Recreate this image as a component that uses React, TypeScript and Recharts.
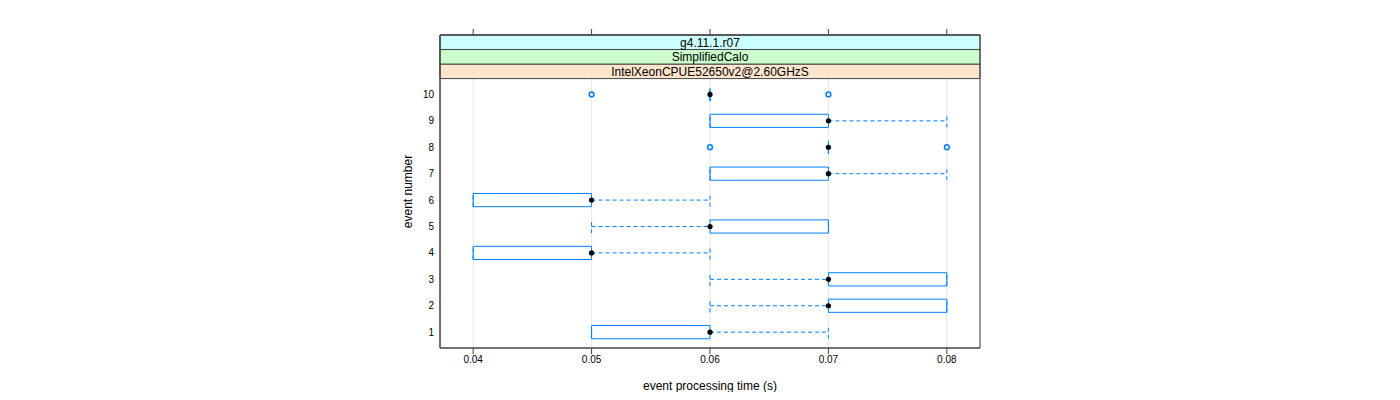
import { ComposedChart, XAxis, YAxis, CartesianGrid, Scatter, ReferenceArea, ReferenceLine } from 'recharts';

// per-event box statistics (event processing time, s)
const events = [1, 2, 3, 4, 5, 6, 7, 8, 9, 10];
const whiskerLow = [0.05, 0.06, 0.06, 0.04, 0.05, 0.04, 0.06, 0.07, 0.06, 0.06];
const lowerHinge = [0.05, 0.07, 0.07, 0.04, 0.06, 0.04, 0.06, 0.07, 0.06, 0.06];
const medians = [0.06, 0.07, 0.07, 0.05, 0.06, 0.05, 0.07, 0.07, 0.07, 0.06];
const upperHinge = [0.06, 0.08, 0.08, 0.05, 0.07, 0.05, 0.07, 0.07, 0.07, 0.06];
const whiskerHigh = [0.07, 0.08, 0.08, 0.06, 0.07, 0.06, 0.08, 0.07, 0.08, 0.06];

const outlierEvents = [8, 8, 10, 10];
const outlierTimes = [0.06, 0.08, 0.05, 0.07];

const xTicks = [0.04, 0.05, 0.06, 0.07, 0.08];
const stripLabels = ['IntelXeonCPUE52650v2@2.60GHzS', 'SimplifiedCalo', 'g4.11.1.r07'];
const stripColors = ['#ffe5cc', '#ccffcc', '#ccffff'];

const BLUE = '#0080ff';
const FRAME = '#444444';
const HALF_BOX = 0.25;
const STRIP_SPAN = 0.55;
const xDomain = [0.0372, 0.0828];
const yTop = 10.6 + STRIP_SPAN * stripLabels.length;
const yDomain = [0.4, yTop];

const medianPoints = events.map((e, i) => ({ x: medians[i], y: e }));
const outlierPoints = outlierEvents.map((e, i) => ({ x: outlierTimes[i], y: e }));

const Dot = (props: any) => <circle cx={props.cx} cy={props.cy} r={2.6} fill="#000" />;
const OpenDot = (props: any) => (
  <circle cx={props.cx} cy={props.cy} r={2.4} fill="none" stroke={BLUE} strokeWidth={1.5} />
);

export default function App() {
  return (
    <div style={{ fontFamily: '"Liberation Sans", Arial, sans-serif' }}>
      <ComposedChart width={1384} height={384} margin={{ top: 20, right: 412, bottom: 0, left: 368 }}>
        <CartesianGrid horizontal={false} stroke="#e8e8e8" />
        <XAxis
          xAxisId={0}
          type="number"
          dataKey="x"
          domain={xDomain}
          ticks={xTicks}
          allowDataOverflow
          height={44}
          tickSize={6}
          tickMargin={2}
          stroke={FRAME}
          tick={{ fill: '#000', fontSize: 10 }}
          tickFormatter={(v: number) => v.toFixed(2)}
          label={{ value: 'event processing time (s)', position: 'insideBottom', offset: 2, fill: '#000', fontSize: 12 }}
        />
        <XAxis
          xAxisId="top"
          orientation="top"
          type="number"
          dataKey="x"
          domain={xDomain}
          ticks={xTicks}
          allowDataOverflow
          height={7}
          tickSize={6}
          tickMargin={0}
          stroke={FRAME}
          tick={{ fill: 'none', fontSize: 1 }}
        />
        <YAxis
          type="number"
          dataKey="y"
          domain={yDomain}
          ticks={events}
          allowDataOverflow
          width={64}
          tickLine={false}
          tickSize={3}
          tickMargin={3}
          stroke={FRAME}
          tick={{ fill: '#000', fontSize: 10 }}
          label={{ value: 'event number', angle: -90, position: 'center', fill: '#000', fontSize: 12 }}
        />

        {/* strips */}
        {stripLabels.map((s, i) => (
          <ReferenceArea
            key={s}
            x1={xDomain[0]}
            x2={xDomain[1]}
            y1={10.6 + STRIP_SPAN * i}
            y2={10.6 + STRIP_SPAN * (i + 1)}
            fill={stripColors[i]}
            fillOpacity={1}
            stroke={FRAME}
            label={{ value: s, position: 'center', fill: '#000', fontSize: 12 }}
          />
        ))}

        {/* whiskers */}
        {events.map((e, i) => (
          <ReferenceLine
            key={'wl' + e}
            segment={[{ x: whiskerLow[i], y: e }, { x: lowerHinge[i], y: e }]}
            stroke={BLUE}
            strokeDasharray="4 3"
          />
        ))}
        {events.map((e, i) => (
          <ReferenceLine
            key={'wh' + e}
            segment={[{ x: upperHinge[i], y: e }, { x: whiskerHigh[i], y: e }]}
            stroke={BLUE}
            strokeDasharray="4 3"
          />
        ))}
        {events.map((e, i) => (
          <ReferenceLine
            key={'cl' + e}
            segment={[{ x: whiskerLow[i], y: e - HALF_BOX }, { x: whiskerLow[i], y: e + HALF_BOX }]}
            stroke={BLUE}
            strokeDasharray="4 3"
          />
        ))}
        {events.map((e, i) => (
          <ReferenceLine
            key={'ch' + e}
            segment={[{ x: whiskerHigh[i], y: e - HALF_BOX }, { x: whiskerHigh[i], y: e + HALF_BOX }]}
            stroke={BLUE}
            strokeDasharray="4 3"
          />
        ))}

        {/* boxes */}
        {events.map((e, i) =>
          upperHinge[i] > lowerHinge[i] ? (
            <ReferenceArea
              key={'b' + e}
              x1={lowerHinge[i]}
              x2={upperHinge[i]}
              y1={e - HALF_BOX}
              y2={e + HALF_BOX}
              fill="none"
              stroke={BLUE}
              strokeWidth={1}
            />
          ) : (
            <ReferenceLine
              key={'b' + e}
              segment={[{ x: lowerHinge[i], y: e - HALF_BOX }, { x: lowerHinge[i], y: e + HALF_BOX }]}
              stroke={BLUE}
            />
          )
        )}

        {/* panel frame */}
        <ReferenceArea x1={xDomain[0]} x2={xDomain[1]} y1={yDomain[0]} y2={yDomain[1]} fill="none" stroke={FRAME} />

        <Scatter xAxisId="top" data={outlierPoints} shape={OpenDot} isAnimationActive={false} />
        <Scatter data={medianPoints} shape={Dot} isAnimationActive={false} />
      </ComposedChart>
    </div>
  );
}
